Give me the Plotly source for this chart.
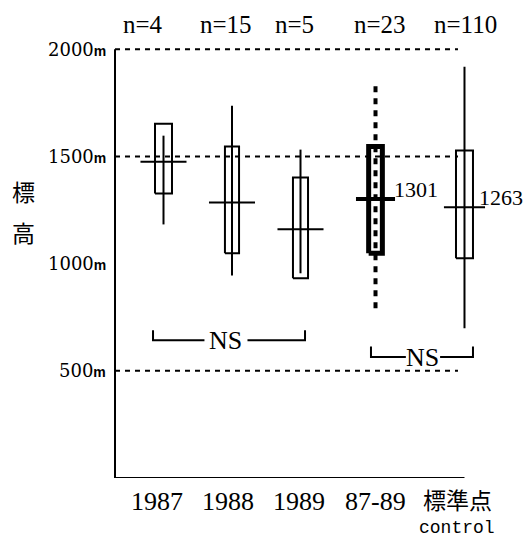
import plotly.graph_objects as go

# ---------------- data ----------------
categories = ["1987", "1988", "1989", "87-89", "標準点"]
category_sub = ["", "", "", "", "control"]
n_counts = [4, 15, 5, 23, 110]
means = [1475, 1285, 1160, 1301, 1263]
box_upper = [1653, 1546, 1402, 1546, 1528]
box_lower = [1327, 1048, 932, 1048, 1025]
range_max = [1597, 1737, 1532, 1840, 1919]
range_min = [1183, 945, 955, 792, 699]
mean_labels = ["", "", "", "1301", "1263"]
y_ticks = [500, 1000, 1500, 2000]
ref_lines = [500, 1500, 2000]
ns_groups = [(0, 2), (3, 4)]
ns_text = ["NS", "NS"]
y_title = ["標", "高"]

# ---------------- layout / style ----------------
xpos = [1, 2, 3, 4.095, 5.394]
x_range = [0.2628, 6.3504]
axis_x = 0.292
y_range = [0, 2006]
box_half = [0.124, 0.103, 0.11, 0.10, 0.124]
box_lw = [2, 2, 2, 5, 2]
mean_half = [0.336, 0.336, 0.336, 0.285, 0.30]
mean_lw = [2, 2, 2, 4, 2]
wh_lw = [2, 2, 2, 4, 2]
wh_dash = ["solid", "solid", "solid", "6px,6px", "solid"]
n_xshift = [-21, -6, -6, 4, 1]
cat_xshift = [-7, -4, -2, 0, -7]
cat_yshift = [-23, -23, -23, -23, -21]
label_xshift = [0, 0, 0, 16, 13]
ns_level = [643, 564]
ns_tick = [46, 50]
ns_left_off = [-0.153, -0.066]
ns_right_off = [0.066, 0.124]
ns_gap_half = [0.314, 0.25]
ns_center = [1.912, 4.788]
ytitle_y = [1339, 1148]

SERIF = "Liberation Serif"
JP = "Noto Sans CJK JP"
BLACK = "black"

fig = go.Figure()

def line_trace(xs, ys, width, dash="solid"):
    fig.add_trace(go.Scatter(x=xs, y=ys, mode="lines",
                             line=dict(color=BLACK, width=width, dash=dash),
                             hoverinfo="skip", showlegend=False))

shapes = []
# reference dashed lines
for v in ref_lines:
    shapes.append(dict(type="line", xref="x", yref="y", x0=axis_x, x1=xpos[-1] - 0.095,
                       y0=v, y1=v, line=dict(color=BLACK, width=2, dash="5px,5px")))
# axes
shapes.append(dict(type="line", xref="x", yref="y", x0=axis_x, x1=axis_x, y0=0, y1=2000,
                   line=dict(color=BLACK, width=2)))
shapes.append(dict(type="line", xref="x", yref="y", x0=axis_x, x1=xpos[-1], y0=0, y1=0,
                   line=dict(color=BLACK, width=2)))

for i in range(len(categories)):
    x0 = xpos[i] - box_half[i]
    x1 = xpos[i] + box_half[i]
    line_trace([x0, x1, x1, x0, x0],
               [box_lower[i], box_lower[i], box_upper[i], box_upper[i], box_lower[i]],
               box_lw[i])
    line_trace([xpos[i], xpos[i]], [range_min[i], range_max[i]], wh_lw[i], wh_dash[i])
    line_trace([xpos[i] - mean_half[i], xpos[i] + mean_half[i]], [means[i], means[i]], mean_lw[i])

# NS brackets
for k, (a, b) in enumerate(ns_groups):
    xl = xpos[a] + ns_left_off[k]
    xr = xpos[b] + ns_right_off[k]
    yl = ns_level[k]
    yt = yl + ns_tick[k]
    c = ns_center[k]
    line_trace([xl, xl, c - ns_gap_half[k]], [yt, yl, yl], 2)
    line_trace([c + ns_gap_half[k], xr, xr], [yl, yl, yt], 2)

ann = []
for i in range(len(categories)):
    ann.append(dict(x=xpos[i], y=1, xref="x", yref="paper", text=f"n={n_counts[i]}",
                    showarrow=False, xanchor="center", yanchor="middle",
                    xshift=n_xshift[i], yshift=24, font=dict(family=SERIF, size=25)))
    is_jp = any(ord(ch) > 0x3000 for ch in categories[i])
    ann.append(dict(x=xpos[i], y=0, xref="x", yref="paper", text=categories[i],
                    showarrow=False, xanchor="center", yanchor="middle",
                    xshift=cat_xshift[i], yshift=cat_yshift[i],
                    font=dict(family=JP if is_jp else SERIF, size=23 if is_jp else 26)))
    if category_sub[i]:
        ann.append(dict(x=xpos[i], y=0, xref="x", yref="paper", text=category_sub[i],
                        showarrow=False, xanchor="center", yanchor="middle",
                        xshift=cat_xshift[i], yshift=-50,
                        font=dict(family="Liberation Mono", size=18)))
    if mean_labels[i]:
        ann.append(dict(x=xpos[i], y=means[i], xref="x", yref="y", text=mean_labels[i],
                        showarrow=False, xanchor="left", yanchor="middle",
                        xshift=label_xshift[i], yshift=10,
                        font=dict(family=SERIF, size=22)))

for v in y_ticks:
    ann.append(dict(x=0, y=v, xref="paper", yref="y",
                    text=f"{v}<b><span style='font-size:14px;font-family:Liberation Sans'>m</span></b>",
                    showarrow=False, xanchor="right", yanchor="middle", xshift=-5,
                    font=dict(family="DejaVu Serif", size=18)))

for k, t in enumerate(ns_text):
    ann.append(dict(x=ns_center[k], y=ns_level[k], xref="x", yref="y", text=t,
                    showarrow=False, xanchor="center", yanchor="middle",
                    font=dict(family=SERIF, size=26)))

for k, t in enumerate(y_title):
    ann.append(dict(x=0, y=ytitle_y[k], xref="paper", yref="y", text=t,
                    showarrow=False, xanchor="center", yanchor="middle", xshift=-90,
                    font=dict(family=JP, size=23)))

fig.update_layout(
    width=530, height=540,
    margin=dict(l=113, r=0, t=48, b=62),
    paper_bgcolor="white", plot_bgcolor="white",
    xaxis=dict(range=x_range, visible=False, fixedrange=True),
    yaxis=dict(range=y_range, visible=False, fixedrange=True),
    shapes=shapes, annotations=ann,
    font=dict(family=SERIF, color=BLACK),
    showlegend=False,
)

fig.write_html("out.html")
